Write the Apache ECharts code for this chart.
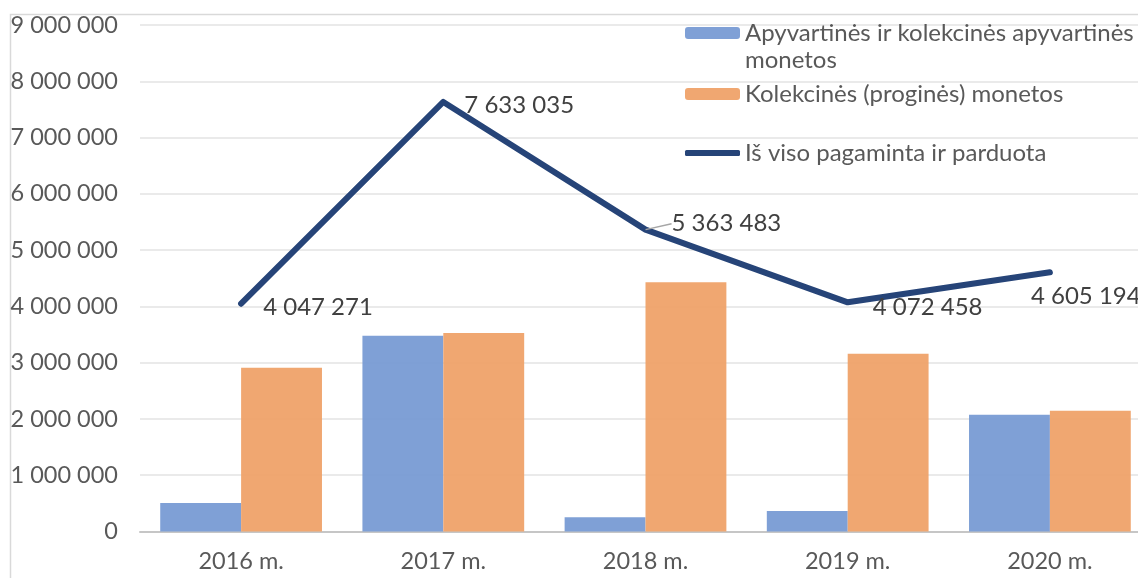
<!DOCTYPE html>
<html>
<head>
<meta charset="utf-8">
<script src="https://cdn.jsdelivr.net/npm/echarts@6/dist/echarts.min.js"></script>
<style>
  html, body { margin: 0; padding: 0; background: #fff; }
  #chart { width: 1138px; height: 578px; }
</style>
</head>
<body>
<div id="chart"></div>
<script>
// duomenys
const years = ["2016 m.", "2017 m.", "2018 m.", "2019 m.", "2020 m."];
const circulation = [505000, 3480000, 255000, 365000, 2075000];
const collector = [2910000, 3525000, 4430000, 3160000, 2145000];
const total = [4047271, 7633035, 5363483, 4072458, 4605194];

const names = [
    "Apyvartinės ir kolekcinės apyvartinės monetos",
    "Kolekcinės (proginės) monetos",
    "Iš viso pagaminta ir parduota",
];

// label nudges for the total line (px, relative to default "right" spot)
const labelShift = [
    { dx: 17, dy: 4 },
    { dx: 16, dy: 3 },
    { dx: 21, dy: -6 },
    { dx: 20, dy: 5 },
    { dx: -24, dy: 24 },
];

const FONT = "Lato";
const TXT = "#595959";

function fmt(v) {
    return String(v).replace(/\B(?=(\d{3})+(?!\d))/g, " ");
}

const chart = echarts.init(document.getElementById("chart"), null, { renderer: "canvas" });

const legendText = { fontFamily: FONT, fontSize: 24, color: TXT, lineHeight: 29 };
const legendBase = {
    orient: "vertical",
    left: 685,
    padding: 0,
    itemWidth: 55,
    itemHeight: 12,
    itemGap: 0,
    selectedMode: false,
    textStyle: legendText,
};

chart.setOption({
    animation: false,
    textStyle: { fontFamily: FONT },
    graphic: [
        {
            type: "rect",
            left: 8, top: 12,
            shape: { width: 1200, height: 620 },
            style: { fill: "none", stroke: "#d9d9d9", lineWidth: 1.5 },
            silent: true,
            z: -10,
        },
        {
            // second line of the first legend entry
            type: "text",
            left: 745, top: 48,
            style: { text: "monetos", font: "24px Lato", fill: TXT },
            silent: true,
        },
    ],
    // plot runs past the right edge (cropped in the original)
    grid: { left: 140, right: -13, top: 25, bottom: 46.5, outerBoundsMode: "none", containLabel: false },
    legend: [
        Object.assign({}, legendBase, {
            top: 18.5,
            data: [names[0]],
            formatter: () => "Apyvartinės ir kolekcinės apyvartinės",
        }),
        Object.assign({}, legendBase, { top: 79.5, data: [names[1]] }),
        Object.assign({}, legendBase, {
            top: 138.5,
            itemHeight: 6,
            data: [{ name: names[2], icon: "roundRect" }],
        }),
    ],
    xAxis: {
        type: "category",
        data: years,
        axisLine: { lineStyle: { color: "#c6c6c6", width: 2 } },
        axisTick: { show: false },
        axisLabel: { color: TXT, fontSize: 23.5, fontFamily: FONT, margin: 18 },
    },
    yAxis: {
        type: "value",
        min: 0,
        max: 9000000,
        interval: 1000000,
        axisLine: { show: false },
        axisTick: { show: false },
        splitLine: { lineStyle: { color: "#e3e3e3", width: 1.5 } },
        axisLabel: { color: TXT, fontSize: 23.5, fontFamily: FONT, margin: 22, formatter: fmt },
    },
    series: [
        {
            name: names[0],
            type: "bar",
            data: circulation,
            barGap: "0%",
            barCategoryGap: "20%",
            itemStyle: { color: "#7b9dd5", opacity: 0.97 },
        },
        {
            name: names[1],
            type: "bar",
            data: collector,
            itemStyle: { color: "#f0a46c", opacity: 0.97 },
        },
        {
            name: names[2],
            type: "line",
            data: total.map((v, i) => ({
                value: v,
                labelLine: { show: i === 2 },
            })),
            symbol: "circle",
            symbolSize: 0.1,
            showSymbol: true,
            lineStyle: { color: "#264478", width: 6, cap: "round", join: "round" },
            itemStyle: { color: "#264478" },
            z: 5,
            label: {
                show: true,
                position: "right",
                color: "#404040",
                fontSize: 24,
                fontFamily: FONT,
                formatter: (p) => fmt(p.value),
            },
            labelLine: { show: false, lineStyle: { color: "#a6a6a6", width: 1.5 } },
            labelLayout: (p) => labelShift[p.dataIndex],
        },
    ],
});
</script>
</body>
</html>
